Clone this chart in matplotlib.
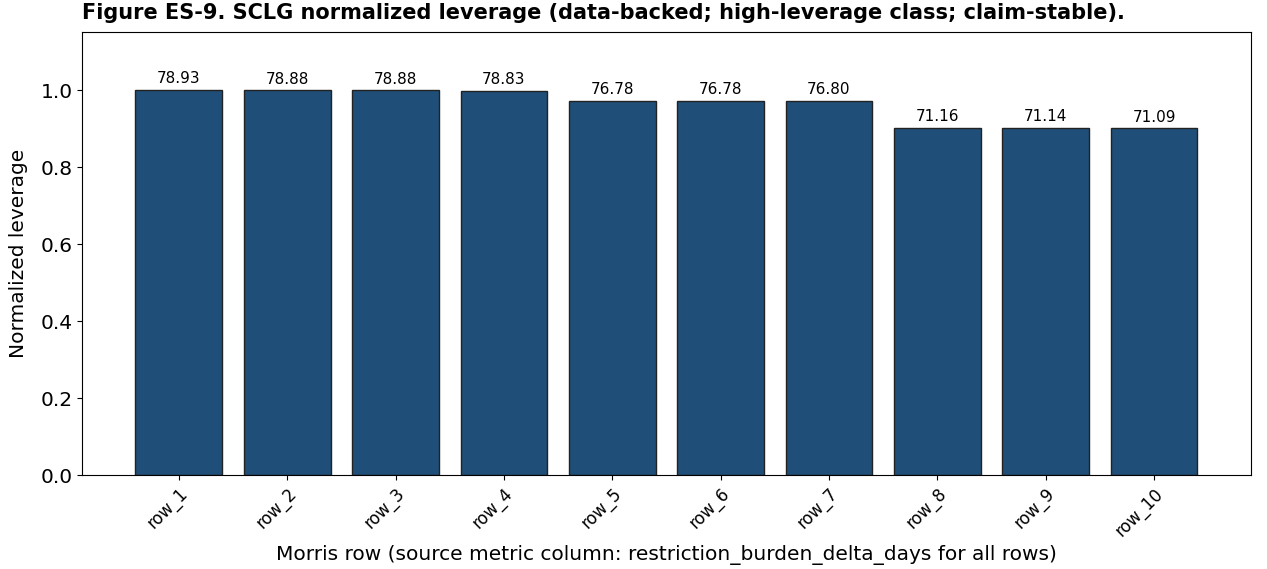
import matplotlib
matplotlib.use("Agg")
import matplotlib.pyplot as plt
import numpy as np

rows = ["row_1", "row_2", "row_3", "row_4", "row_5",
        "row_6", "row_7", "row_8", "row_9", "row_10"]
leverage = [78.93, 78.88, 78.88, 78.83, 76.78,
            76.78, 76.80, 71.16, 71.14, 71.09]

lev = np.array(leverage)
norm = lev / lev.max()
x = np.arange(len(rows))

fig, ax = plt.subplots(figsize=(12.67, 5.69), dpi=100)
ax.bar(x, norm, width=0.8, color="#1f4e79", edgecolor="#222222", linewidth=1.0)
for xi, h, v in zip(x, norm, lev):
    ax.text(xi, h + 0.01, f"{v:.2f}", ha="center", va="bottom", fontsize=11)

ax.set_xticks(x)
ax.set_xticklabels(rows, rotation=45, ha="right", rotation_mode="anchor", fontsize=12)
ax.tick_params(axis="y", labelsize=14.5)
ax.set_ylim(0, 1.15)
ax.set_ylabel("Normalized leverage", fontsize=14.5, labelpad=9)
ax.set_xlabel("Morris row (source metric column: restriction_burden_delta_days for all rows)", fontsize=14.5)
ax.set_title("Figure ES-9. SCLG normalized leverage (data-backed; high-leverage class; claim-stable).",
             loc="left", fontsize=15, fontweight="bold", pad=10)

plt.subplots_adjust(left=0.065, right=0.987, top=0.943, bottom=0.165)
fig.savefig("out.png", dpi=100)
